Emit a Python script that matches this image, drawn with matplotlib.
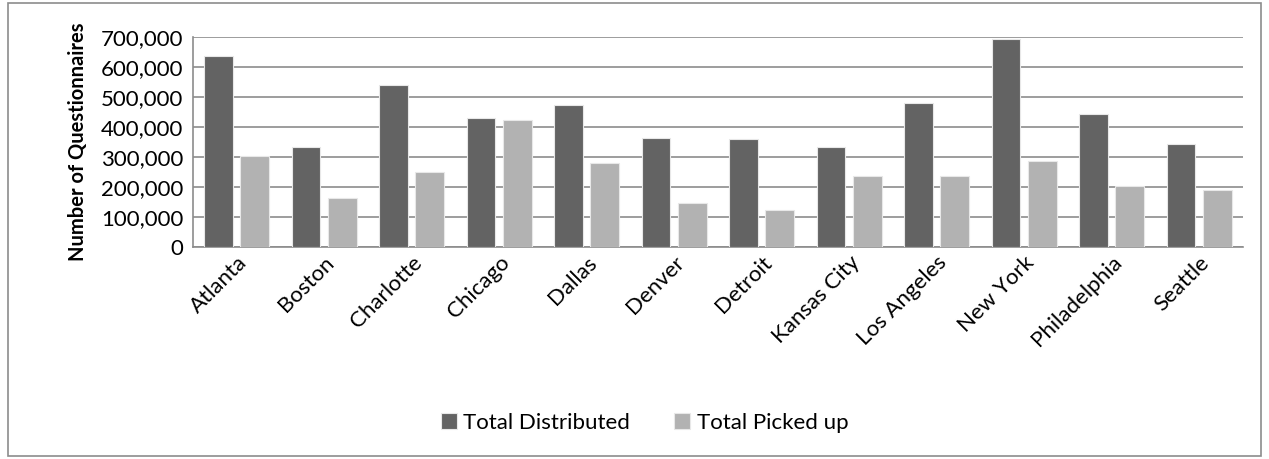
import matplotlib.pyplot as plt
import numpy as np
from matplotlib.patches import Rectangle
from matplotlib.ticker import FuncFormatter, MultipleLocator

cities = ["Atlanta", "Boston", "Charlotte", "Chicago", "Dallas", "Denver",
          "Detroit", "Kansas City", "Los Angeles", "New York", "Philadelphia", "Seattle"]
total_distributed = [636000, 333000, 539000, 430000, 472000, 362000,
                     359000, 331000, 478000, 691000, 442000, 344000]
total_picked_up = [302000, 161000, 250000, 422000, 279000, 147000,
                   124000, 236000, 236000, 286000, 202000, 188000]

plt.rcParams['font.family'] = ['Lato', 'DejaVu Sans']

fig = plt.figure(figsize=(12.69, 4.59), dpi=100)
ax = fig.add_axes([0.152, 0.4625, 0.8275, 0.4575])

x = np.arange(len(cities))
w = 0.328
ax.bar(x - 0.207, total_distributed, w, color='#636363', edgecolor='#e8e8e8',
       linewidth=0.8, label='Total Distributed', zorder=3)
ax.bar(x + 0.207, total_picked_up, w, color='#b2b2b2', edgecolor='#e8e8e8',
       linewidth=0.8, label='Total Picked up', zorder=3)

ax.set_xlim(-0.5, len(cities) - 0.5)
ax.set_ylim(0, 700000)
ax.yaxis.set_major_locator(MultipleLocator(100000))
ax.yaxis.set_major_formatter(FuncFormatter(lambda v, p: f"{int(v):,}"))
ax.grid(axis='y', color='#8c8c8c', linewidth=1.2, zorder=0)
ax.tick_params(axis='both', length=0, labelsize=16, pad=7)
ax.tick_params(axis='x', pad=4)
ax.set_xticks(x)
ax.set_xticklabels(cities, rotation=45, ha='right', rotation_mode='anchor')
for s in ['top', 'right']:
    ax.spines[s].set_visible(False)
for s in ['left', 'bottom']:
    ax.spines[s].set_color('#8c8c8c')
    ax.spines[s].set_linewidth(1.2)

ax.set_ylabel("Number of Questionnaires", fontsize=14.5, fontweight='bold', labelpad=9)

fig.legend(loc='center', bbox_to_anchor=(0.508, 0.079), ncol=2, frameon=False,
           fontsize=16, handlelength=0.7, handleheight=0.7, columnspacing=2.0,
           handletextpad=0.3)

fig.patches.append(Rectangle((0.006, 0.007), 0.988, 0.986, transform=fig.transFigure,
                             fill=False, edgecolor='#8c8c8c', linewidth=1.2))

fig.savefig('out.png', dpi=100)
